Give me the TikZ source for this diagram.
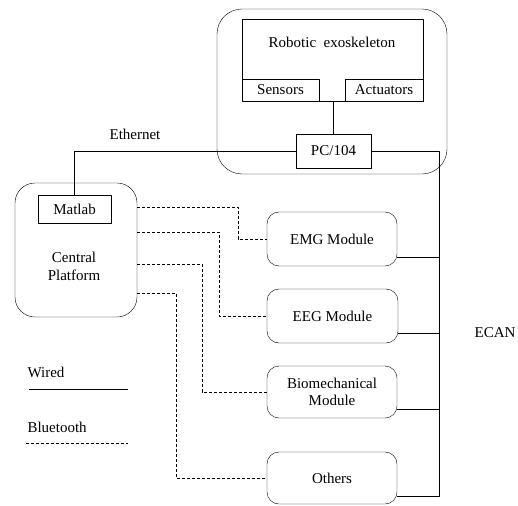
\documentclass[tikz,border=0pt]{standalone}
\usepackage{fontspec}
\setmainfont{Liberation Serif}
\usetikzlibrary{calc}

\begin{document}
\begin{tikzpicture}[x=1pt, y=-1pt, line join = round,
  every node/.style={font=\fontsize{15}{17}\selectfont},
  box/.style={draw, inner sep=0pt},
  rbox/.style={draw, inner sep=0pt, rounded corners=12pt, align=center},
  wire/.style={draw, line width=0.8pt},
  bt/.style={draw, dashed, dash pattern=on 3pt off 2pt, line width=0.7pt}]
\useasboundingbox (0,0) rectangle (518,505);

% exoskeleton side
\node [box, rounded corners=25pt, minimum width=230pt, minimum height=165pt] (outer) at (332,91.5) {};
\node [box, minimum width=181pt, minimum height=82pt] (exo) at (332.5,60) {};
\node (exotitle) at (332,42) {Robotic\ \ exoskeleton};
\node [box, minimum width=77pt, minimum height=22pt] (sensors) at (280.5,90) {Sensors};
\node [box, minimum width=78pt, minimum height=22pt] (actuators) at (384,90) {Actuators};
\node [box, minimum width=75pt, minimum height=34pt] (pc) at (333.5,151) {PC/104};

% central platform
\node [box, rounded corners=20pt, minimum width=122pt, minimum height=134pt] (central) at (76,250) {};
\node [box, minimum width=73pt, minimum height=28pt] (matlab) at (74.5,209) {Matlab};
\node [align=center, font=\fontsize{15}{18}\selectfont] (cptext) at (74,266) {Central\\Platform};

% modules
\node [rbox, minimum width=130pt, minimum height=54pt] (emg) at (332,239) {EMG Module};
\node [rbox, minimum width=131pt, minimum height=54pt] (eeg) at (332.5,316) {EEG Module};
\node [rbox, minimum width=130pt, minimum height=52pt, font=\fontsize{15}{17}\selectfont] (bio) at (332,392) {Biomechanical\\Module};
\node [rbox, minimum width=130pt, minimum height=52pt] (others) at (332,478) {Others};

\node (ethernet) at (135,134) {Ethernet};
\node (ecan) at (495,333) {ECAN};
\coordinate (busend) at (439,496);

% wired links
\draw[wire] (pc.north) -- (pc.north |- exo.south);
\draw[wire] (pc.west) -| (matlab.north);
\draw[wire] (pc.east) -| (busend) -- (busend -| others.east);
\foreach \m/\d in {emg/18, eeg/17, bio/17}
    \draw[wire] ([yshift=-\d pt]\m.east) -- ([yshift=-\d pt]\m.east -| busend);

% bluetooth links
\foreach \m/\o/\x in {emg/43/238, eeg/18/219, bio/-14/202, others/-43/176}
{
    \coordinate (k\m) at (\x,0);
    \draw[bt] ([yshift=\o pt]central.east) -- ([yshift=\o pt]central.east -| k\m) -- (k\m |- \m.west) -- (\m.west);
}

% legend
\node [anchor=west] (wired) at (24,372) {Wired};
\coordinate (wa) at (29,389);
\coordinate (wb) at (128,389);
\draw[wire] (wa) -- (wb);
\node [anchor=west] (bluetooth) at (24,427) {Bluetooth};
\coordinate (ba) at (26,443);
\coordinate (bb) at (128,443);
\draw[bt] (ba) -- (bb);
\end{tikzpicture}
\end{document}
